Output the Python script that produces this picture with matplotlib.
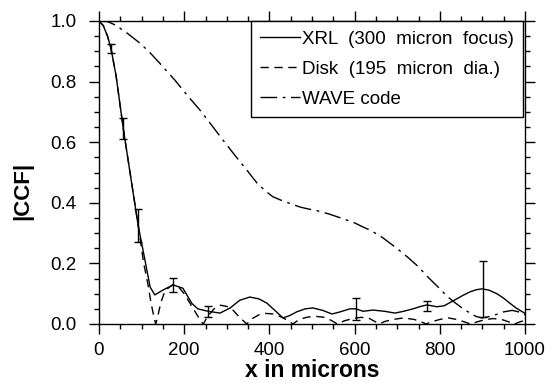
"""
|CCF| versus separation: XRL measurement, uniform disk model and WAVE code
"""

import matplotlib
matplotlib.use('Agg')
import matplotlib.pyplot as plt
from matplotlib.ticker import MultipleLocator

plt.rcParams['font.family'] = ['Liberation Sans', 'DejaVu Sans']

# XRL measurement (300 micron focus)
xrl_x = [0, 10, 20, 28, 40, 57, 75, 92, 108, 120, 131, 150, 174, 197, 218, 232,
         256, 284, 308, 330, 354, 375, 394, 415, 432, 448, 464, 484, 502, 525,
         547, 566, 589, 603, 620, 643, 670, 695, 715, 737, 755, 770, 793, 810,
         836, 855, 871, 885, 899, 915, 934, 950, 965, 980, 1000]
xrl_y = [1.0, 0.985, 0.95, 0.91, 0.82, 0.645, 0.48, 0.325, 0.21, 0.122, 0.096,
         0.112, 0.129, 0.118, 0.068, 0.05, 0.042, 0.036, 0.053, 0.078, 0.089,
         0.083, 0.069, 0.042, 0.02, 0.028, 0.04, 0.05, 0.053, 0.045, 0.033,
         0.04, 0.05, 0.05, 0.042, 0.046, 0.042, 0.036, 0.042, 0.05, 0.058,
         0.063, 0.057, 0.06, 0.08, 0.095, 0.106, 0.113, 0.116, 0.112, 0.1,
         0.085, 0.068, 0.052, 0.035]

# error bars on the XRL curve
err_x = [28, 57, 92, 173, 256, 603, 770, 901]
err_lo = [0.895, 0.61, 0.27, 0.106, 0.024, 0.013, 0.043, 0.024]
err_hi = [0.925, 0.68, 0.38, 0.152, 0.06, 0.086, 0.076, 0.208]
err_mid = [0.91, 0.645, 0.325, 0.129, 0.042, 0.05, 0.063, 0.116]

# Disk model (195 micron dia.)
disk_x = [0, 10, 20, 28, 40, 57, 75, 92, 105, 115, 122, 128, 133, 138, 145,
          155, 173, 185, 200, 215, 228, 238, 245, 255, 270, 285, 300, 315, 330,
          347, 360, 375, 390, 410, 430, 445, 455, 470, 490, 510, 530, 545, 560,
          575, 595, 615, 635, 648, 658, 670, 690, 715, 740, 755, 768, 780, 800,
          820, 840, 860, 872, 885, 905, 925, 945, 962, 975, 990, 1000]
disk_y = [1.0, 0.985, 0.95, 0.91, 0.82, 0.645, 0.48, 0.325, 0.2, 0.13, 0.07,
          0.03, 0.0, 0.025, 0.07, 0.11, 0.13, 0.125, 0.1, 0.065, 0.035, 0.012,
          0.0, 0.025, 0.05, 0.062, 0.058, 0.045, 0.022, 0.0, 0.018, 0.03, 0.035,
          0.033, 0.022, 0.01, 0.0, 0.015, 0.023, 0.025, 0.022, 0.012, 0.0, 0.01,
          0.018, 0.022, 0.018, 0.008, 0.0, 0.008, 0.015, 0.02, 0.015, 0.008,
          0.0, 0.007, 0.015, 0.02, 0.015, 0.006, 0.0, 0.006, 0.014, 0.018,
          0.015, 0.007, 0.0, 0.008, 0.012]

# WAVE code
wave_x = [0, 20, 38, 66, 96, 120, 143, 178, 210, 237, 265, 291, 320, 347, 371,
          390, 408, 430, 448, 472, 490, 512, 540, 561, 580, 601, 620, 636, 664,
          680, 699, 725, 749, 772, 796, 819, 836, 853, 871, 885, 899, 915, 930,
          950, 970, 985, 1000]
wave_y = [1.0, 0.998, 0.987, 0.96, 0.927, 0.895, 0.86, 0.805, 0.75, 0.706,
          0.655, 0.607, 0.555, 0.508, 0.465, 0.44, 0.42, 0.407, 0.398, 0.386,
          0.38, 0.374, 0.363, 0.353, 0.344, 0.333, 0.32, 0.31, 0.287, 0.27,
          0.25, 0.22, 0.19, 0.155, 0.122, 0.089, 0.07, 0.052, 0.036, 0.025,
          0.02, 0.024, 0.03, 0.04, 0.045, 0.04, 0.03]

fig = plt.figure(figsize=(5.6, 3.84), dpi=100)
ax = fig.add_axes([99 / 560, 1 - 324 / 384, 426 / 560, 303 / 384])

ax.plot(xrl_x, xrl_y, color='black', lw=1.0, label='XRL  (300  micron  focus)')
ax.plot(disk_x, disk_y, color='black', lw=1.0, dashes=(6, 4),
        label='Disk  (195  micron  dia.)')
ax.plot(wave_x, wave_y, color='black', lw=1.0, dashes=(12, 4, 2, 4),
        label='WAVE code')

# asymmetric error bars
yerr = [[m - lo for m, lo in zip(err_mid, err_lo)],
        [hi - m for m, hi in zip(err_mid, err_hi)]]
ax.errorbar(err_x, err_mid, yerr=yerr, fmt='none', ecolor='black',
            elinewidth=1.0, capsize=3, capthick=1.0)

ax.set_xlim(0, 1000)
ax.set_ylim(0, 1.0)
ax.xaxis.set_major_locator(MultipleLocator(200))
ax.xaxis.set_minor_locator(MultipleLocator(50))
ax.yaxis.set_major_locator(MultipleLocator(0.2))
ax.yaxis.set_minor_locator(MultipleLocator(0.05))
ax.yaxis.set_major_formatter(plt.FormatStrFormatter('%.1f'))
ax.tick_params(which='both', direction='out', top=True, right=True,
               labelsize=13.5, width=1.0)
ax.tick_params(which='major', length=7)
ax.tick_params(which='minor', length=3.5)
ax.tick_params(axis='y', which='major', pad=9)
ax.tick_params(axis='x', which='major', pad=6)
for s in ax.spines.values():
    s.set_linewidth(1.0)

ax.set_xlabel('x in microns', fontsize=16.5, fontweight='bold', labelpad=0)
ax.set_ylabel('|CCF|', fontsize=16, fontweight='bold')
ax.yaxis.set_label_coords(-0.155, 0.44)

leg = ax.legend(loc='upper right', bbox_to_anchor=(0.995, 1.0),
                borderaxespad=0, fancybox=False, framealpha=1,
                edgecolor='black', fontsize=13.5, handlelength=2.1,
                handletextpad=0.1, labelspacing=0.7, borderpad=0.5)
leg.get_frame().set_linewidth(1.0)

plt.savefig('out.png', dpi=100, facecolor='white')
plt.close()
